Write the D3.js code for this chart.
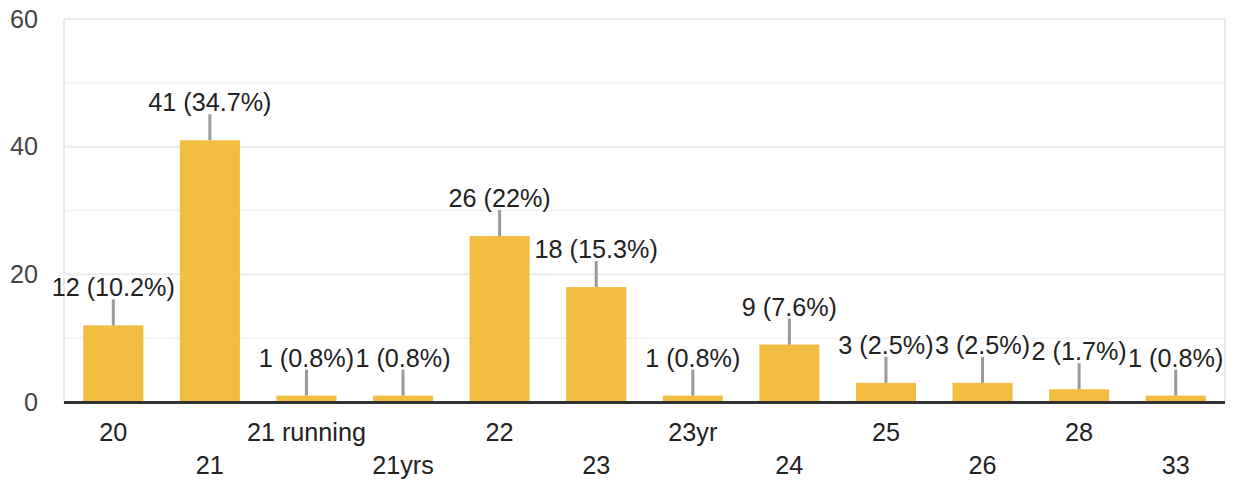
<!DOCTYPE html>
<html lang="en">
  <head>
    <meta charset="UTF-8" />
    <title>Age responses</title>
    <style>
      body {
        margin: 0;
        background: #fff;
      }
      svg text {
        font-family: "Liberation Sans", Arial, sans-serif;
      }
    </style>
  </head>
  <body>
    <svg id="chart" width="1235" height="483"></svg>
    <script src="https://d3js.org/d3.v7.min.js"></script>
    <script>
      const categories = ["20", "21", "21 running", "21yrs", "22", "23", "23yr", "24", "25", "26", "28", "33"];
      const counts = [12, 41, 1, 1, 26, 18, 1, 9, 3, 3, 2, 1];
      const yTicks = [0, 20, 40, 60];
      const gridValues = [10, 20, 30, 40, 50, 60];

      const svg = d3.select("#chart");
      const plotLeft = 64,
        plotRight = 1225,
        plotTop = 19,
        plotBottom = 402;
      const fontSize = 25.2;

      const total = d3.sum(counts);
      const pct = (v) => {
        const p = ((v / total) * 100).toFixed(1);
        return p.endsWith(".0") ? p.slice(0, -2) : p;
      };

      const x = d3
        .scaleBand()
        .domain(categories)
        .range([plotLeft + 1, plotRight - 1])
        .paddingInner(0.378)
        .paddingOuter(0.189);

      const y = d3.scaleLinear().domain([0, 60]).range([plotBottom, plotTop]);

      // grid
      svg
        .append("g")
        .selectAll("line")
        .data(gridValues)
        .join("line")
        .attr("x1", plotLeft)
        .attr("x2", plotRight)
        .attr("y1", (d) => y(d))
        .attr("y2", (d) => y(d))
        .attr("stroke", (d) => (d % 20 === 0 ? "#ebebeb" : "#f3f3f3"))
        .attr("stroke-width", 2);

      svg
        .append("g")
        .selectAll("line")
        .data([plotLeft, plotRight])
        .join("line")
        .attr("x1", (d) => d)
        .attr("x2", (d) => d)
        .attr("y1", plotTop)
        .attr("y2", plotBottom)
        .attr("stroke", "#ebebeb")
        .attr("stroke-width", 2);

      // y tick labels
      svg
        .append("g")
        .selectAll("text")
        .data(yTicks)
        .join("text")
        .attr("x", 38)
        .attr("y", (d) => y(d))
        .attr("dy", "0.35em")
        .attr("text-anchor", "end")
        .attr("font-size", fontSize)
        .attr("fill", "#444")
        .text((d) => d);

      // bars
      svg
        .append("g")
        .selectAll("rect")
        .data(counts)
        .join("rect")
        .attr("x", (d, i) => x(categories[i]))
        .attr("width", x.bandwidth())
        .attr("y", (d) => y(d))
        .attr("height", (d) => y(0) - y(d))
        .attr("fill", "#f1be41");

      // baseline
      svg
        .append("line")
        .attr("x1", plotLeft)
        .attr("x2", plotRight)
        .attr("y1", plotBottom + 0.5)
        .attr("y2", plotBottom + 0.5)
        .attr("stroke", "#333")
        .attr("stroke-width", 3);

      // leader lines + value labels
      const ann = svg
        .append("g")
        .selectAll("g")
        .data(counts)
        .join("g")
        .attr("transform", (d, i) => `translate(${x(categories[i]) + x.bandwidth() / 2},${y(d)})`);

      ann
        .append("line")
        .attr("y1", 0)
        .attr("y2", -26)
        .attr("stroke", "#999")
        .attr("stroke-width", 3);

      ann
        .append("text")
        .attr("y", -29)
        .attr("text-anchor", "middle")
        .attr("font-size", fontSize)
        .attr("fill", "#222")
        .text((d) => `${d} (${pct(d)}%)`);

      // x labels, staggered
      svg
        .append("g")
        .selectAll("text")
        .data(categories)
        .join("text")
        .attr("x", (d) => x(d) + x.bandwidth() / 2)
        .attr("y", (d, i) => (i % 2 === 0 ? 432 : 465))
        .attr("dy", "0.35em")
        .attr("text-anchor", "middle")
        .attr("font-size", fontSize)
        .attr("fill", "#222")
        .text((d) => d);
    </script>
  </body>
</html>
